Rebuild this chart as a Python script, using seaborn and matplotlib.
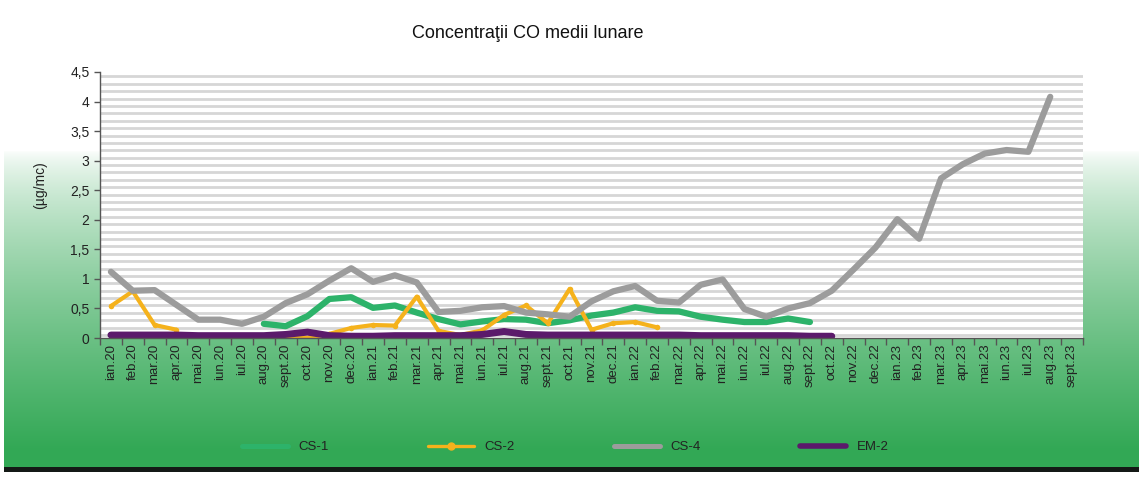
import numpy as np
import pandas as pd
import matplotlib
matplotlib.use("Agg")
import matplotlib.pyplot as plt
from matplotlib.lines import Line2D
import seaborn as sns

nan = np.nan

months = ["ian.20", "feb.20", "mar.20", "apr.20", "mai.20", "iun.20", "iul.20", "aug.20", "sept.20", "oct.20", "nov.20", "dec.20",
          "ian.21", "feb.21", "mar.21", "apr.21", "mai.21", "iun.21", "iul.21", "aug.21", "sept.21", "oct.21", "nov.21", "dec.21",
          "ian.22", "feb.22", "mar.22", "apr.22", "mai.22", "iun.22", "iul.22", "aug.22", "sept.22", "oct.22", "nov.22", "dec.22",
          "ian.23", "feb.23", "mar.23", "apr.23", "mai.23", "iun.23", "iul.23", "aug.23", "sept.23"]

cs1 = [nan] * 7 + [0.24, 0.20, 0.37, 0.66, 0.69,
                   0.51, 0.55, 0.43, 0.32, 0.23, 0.28, 0.32, 0.31, 0.25, 0.30, 0.38, 0.43,
                   0.52, 0.46, 0.45, 0.36, 0.31, 0.27, 0.27, 0.33, 0.27] + [nan] * 12

cs2 = [0.54, 0.79, 0.22, 0.14] + [nan] * 4 + [0.02, 0.00, 0.07, 0.17,
       0.22, 0.21, 0.70, 0.12, 0.05, 0.13, 0.39, 0.55, 0.25, 0.83, 0.14, 0.25,
       0.27, 0.18] + [nan] * 19

cs4 = [1.12, 0.80, 0.81, 0.56, 0.31, 0.31, 0.24, 0.36, 0.59, 0.74, 0.97, 1.18,
       0.95, 1.06, 0.94, 0.44, 0.46, 0.52, 0.54, 0.43, 0.40, 0.36, 0.62, 0.79,
       0.88, 0.63, 0.60, 0.90, 0.99, 0.49, 0.36, 0.50, 0.59, 0.80, 1.16, 1.53,
       2.01, 1.68, 2.70, 2.94, 3.12, 3.18, 3.15, 4.08, nan]

em2 = [0.05, 0.05, 0.05, 0.05, 0.04, 0.04, 0.04, 0.04, 0.06, 0.10, 0.04, 0.03,
       0.03, 0.04, 0.04, 0.04, 0.04, 0.06, 0.11, 0.06, 0.05, 0.05, 0.05, 0.05,
       0.05, 0.05, 0.05, 0.04, 0.04, 0.04, 0.04, 0.04, 0.03, 0.03] + [nan] * 11

yticks = [0, 0.5, 1, 1.5, 2, 2.5, 3, 3.5, 4, 4.5]
ytick_labels = ["0", "0,5", "1", "1,5", "2", "2,5", "3", "3,5", "4", "4,5"]

# name, colour, line width, marker
styles = [("CS-1", "#2db36a", 4.5, None),
          ("CS-2", "#f5b21c", 3.0, "o"),
          ("CS-4", "#9c9c9c", 4.5, None),
          ("EM-2", "#5b1a6b", 5.0, None)]

df = pd.DataFrame({"x": range(len(months)), "CS-1": cs1, "CS-2": cs2, "CS-4": cs4, "EM-2": em2})
df = df.melt(id_vars="x", var_name="statie", value_name="CO")
# split each series where values are missing so the gaps stay open
df["seg"] = df.groupby("statie")["CO"].transform(lambda s: s.isna().cumsum())
df = df.dropna()

sns.set_theme(style="white")
plt.rcParams['font.family'] = ['Liberation Sans', 'DejaVu Sans']

fig = plt.figure(figsize=(11.39, 4.8), dpi=100)

# green page background of the scan
H, W = 480, 1139
rows = np.arange(H)[:, None] * np.ones((1, W))
t = np.clip((rows - 150) / 300, 0, 1) ** 0.7
green = np.array([50, 168, 85]) / 255
img = (1 - t)[..., None] * np.ones(3) + t[..., None] * green
img[467:472, :, :] = np.array([20, 25, 22]) / 255
img[472:, :, :] = 1.0
img[:, :4, :] = 1.0
bg = fig.add_axes([0, 0, 1, 1], zorder=-10)
bg.imshow(img, aspect="auto", extent=[0, 1, 0, 1])
bg.axis("off")

ax = fig.add_axes([100 / W, (H - 338) / H, 983 / W, 266 / H])
ax.set_facecolor("white")
for yv in np.arange(0.05, 4.5, 0.125):
    ax.axhline(yv, color="#d6d6d6", lw=2.0, zorder=0)

for name, col, lw, mk in styles:
    sub = df[df["statie"] == name]
    sns.lineplot(data=sub, x="x", y="CO", units="seg", estimator=None, color=col,
                 lw=lw, marker=mk, markersize=4, markeredgewidth=0, ax=ax, legend=False,
                 solid_capstyle="round", solid_joinstyle="round")

ax.set_xlim(-0.5, len(months) - 0.5)
ax.set_ylim(0, 4.5)
ax.set_xticks(range(len(months)))
ax.set_xticklabels(months, rotation=90, fontsize=9.5, color="#222222")
ax.set_xticks(np.arange(-0.5, len(months), 1), minor=True)
ax.tick_params(axis="x", which="major", length=0, pad=4)
ax.tick_params(axis="x", which="minor", length=5, width=1, color="#555555", direction="out", bottom=True)
ax.set_yticks(yticks)
ax.set_yticklabels(ytick_labels, fontsize=10, color="#222222")
ax.tick_params(axis="y", length=4, width=1, color="#555555", direction="out", left=True)
ax.set_xlabel("")
ax.set_ylabel("")
for s in ["top", "right"]:
    ax.spines[s].set_visible(False)
for s in ["left", "bottom"]:
    ax.spines[s].set_color("#555555")
    ax.spines[s].set_linewidth(1)

fig.text(528 / W, 1 - 33 / H, "Concentraţii CO medii lunare", ha="center", va="center", fontsize=13, color="#111111")
fig.text(40 / W, 1 - 185 / H, "(µg/mc)", ha="center", va="center", rotation=90, fontsize=10, color="#222222")

handles = [Line2D([], [], color=col, lw=lw * 0.8, marker=mk, markersize=5) for name, col, lw, mk in styles]
fig.legend(handles, [s[0] for s in styles], loc="center", bbox_to_anchor=(565 / W, 1 - 447 / H),
           ncol=4, frameon=False, fontsize=9.5, handlelength=3.5, columnspacing=7.5, labelcolor="#222222")

plt.savefig("out.png", format="png", dpi=100)
